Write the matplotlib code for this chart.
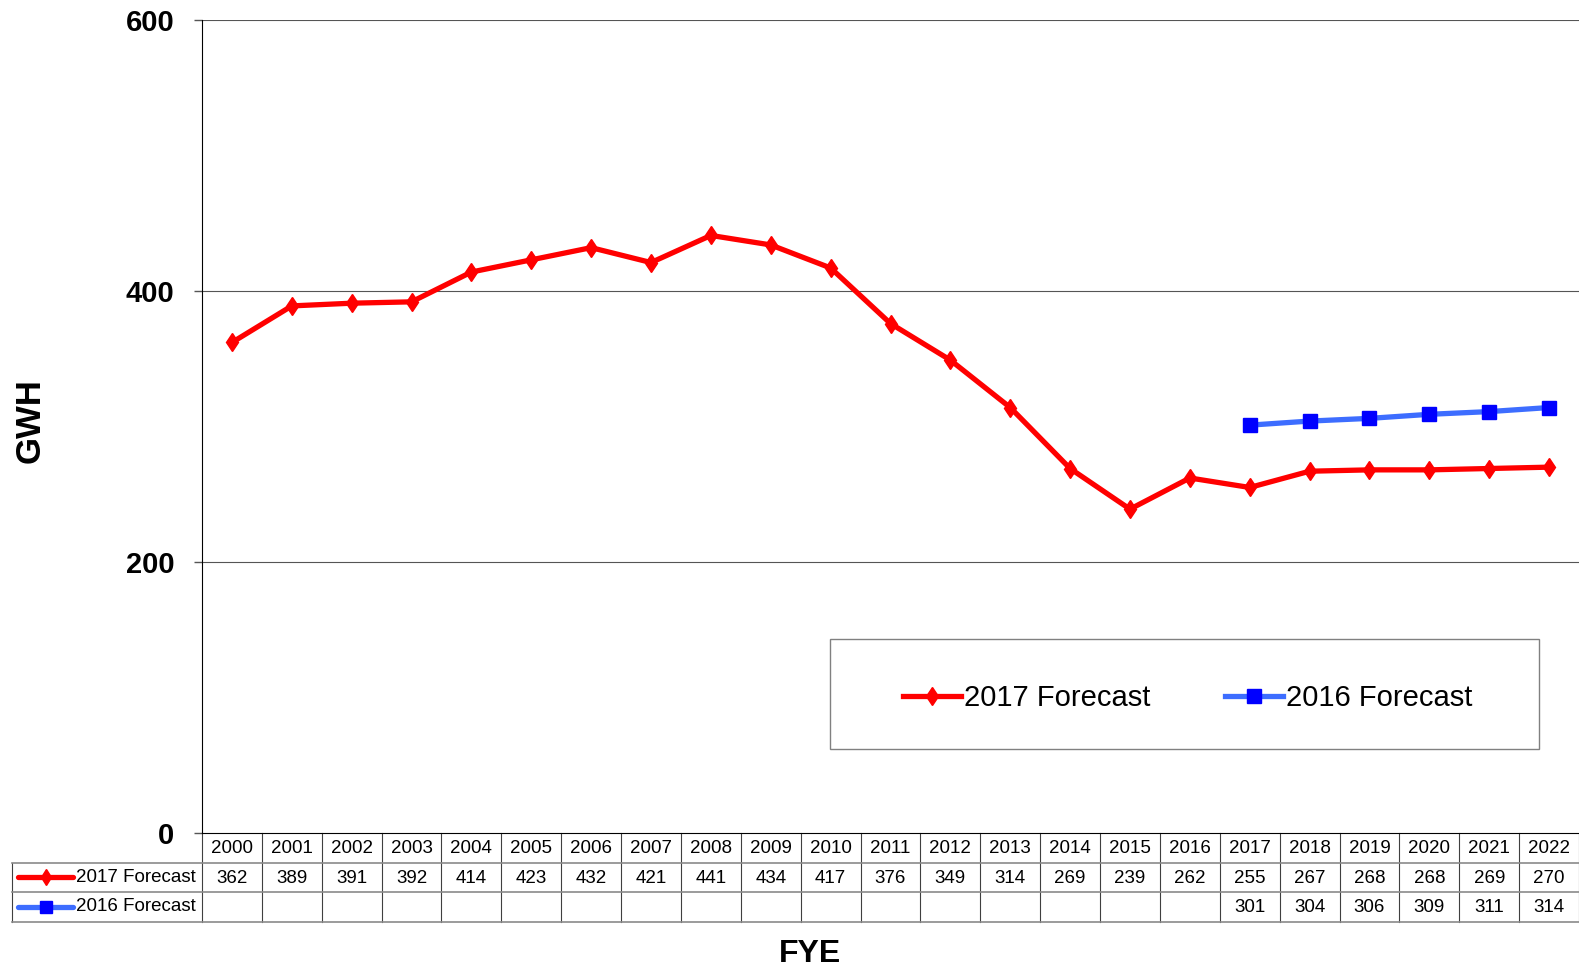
import matplotlib
matplotlib.use("Agg")
import matplotlib.pyplot as plt
import matplotlib.transforms as mtransforms
from matplotlib.patches import Rectangle
from matplotlib.lines import Line2D
import numpy as np

plt.rcParams['font.family'] = ['Liberation Sans', 'DejaVu Sans']

# data
years = [str(y) for y in range(2000, 2023)]
f2017 = [362, 389, 391, 392, 414, 423, 432, 421, 441, 434, 417, 376,
         349, 314, 269, 239, 262, 255, 267, 268, 268, 269, 270]
f2016_years = ['2017', '2018', '2019', '2020', '2021', '2022']
f2016 = [301, 304, 306, 309, 311, 314]
series_names = ['2017 Forecast', '2016 Forecast']
yticks = [0, 200, 400, 600]

W, H = 1579, 971
fig = plt.figure(figsize=(W / 100, H / 100), dpi=100)
ax_l, ax_r, ax_t, ax_b = 202, 1579, 20, 833
ax = fig.add_axes([ax_l / W, 1 - ax_b / H, (ax_r - ax_l) / W, (ax_b - ax_t) / H])

red = '#FF0000'
blue_line = '#3D6DFF'
blue_mk = '#0000FF'

x = np.arange(len(years))
x16 = [years.index(y) for y in f2016_years]
ax.plot(x, f2017, color=red, lw=3.8, marker='d', ms=9.5, mfc=red, mec=red, zorder=3)
ax.plot(x16, f2016, color=blue_line, lw=3.8, marker='s', ms=9.5, mfc=blue_mk, mec=blue_mk, zorder=3)

ax.set_xlim(-0.5, len(years) - 0.5)
ax.set_ylim(0, 600)
ax.set_yticks(yticks)
ax.set_yticklabels([str(v) for v in yticks], fontsize=21, fontweight='bold')
ax.tick_params(axis='y', direction='out', length=6, width=1, color='#555555', pad=14)
ax.set_xticks([])
for v in yticks[1:]:
    ax.axhline(v, color='#555555', lw=0.8, zorder=1)
for s in ['top', 'right']:
    ax.spines[s].set_visible(False)
ax.spines['left'].set_color('black')
ax.spines['bottom'].set_color('black')

fig.text(30 / W, 1 - 421 / H, 'GWH', fontsize=25, fontweight='bold',
         rotation=90, ha='center', va='center')
fig.text(810 / W, 1 - 954 / H, 'FYE', fontsize=23, fontweight='bold', ha='center', va='center')

# data table under the axes
rh = 29.5 / (ax_b - ax_t)
tr = mtransforms.blended_transform_factory(ax.transData, ax.transAxes)
trf = mtransforms.blended_transform_factory(fig.transFigure, ax.transAxes)
tab_left = 12 / W
line_kw = dict(color='#404040', lw=0.8, clip_on=False)
hline_kw = dict(color='#8a8a8a', lw=1.2, clip_on=False)
tfs = 13.5

for i, yr in enumerate(years):
    ax.text(i, -0.53 * rh, yr, transform=tr, ha='center', va='center', fontsize=tfs)
    ax.text(i, -1.53 * rh, str(f2017[i]), transform=tr, ha='center', va='center', fontsize=tfs)
for xi, v in zip(x16, f2016):
    ax.text(xi, -2.53 * rh, str(v), transform=tr, ha='center', va='center', fontsize=tfs)

# vertical cell borders
for k in range(len(years) + 1):
    ax.plot([k - 0.5, k - 0.5], [0, -3 * rh], transform=tr, **line_kw)
ax.plot([tab_left, tab_left], [-rh, -3 * rh], transform=trf, **line_kw)
# horizontal borders
for r in [1, 2, 3]:
    ax.plot([tab_left, 1.0], [-r * rh, -r * rh], transform=trf, **hline_kw)

# row labels with legend glyphs
styles = [dict(color=red, marker='d', ms=9.5, mfc=red, mec=red),
          dict(color=blue_line, marker='s', ms=9.5, mfc=blue_mk, mec=blue_mk)]
for r, (name, st) in enumerate(zip(series_names, styles)):
    yy = -(r + 1.5) * rh
    ax.plot([18 / W, 73 / W], [yy, yy], transform=trf, lw=3.8, color=st['color'],
            solid_capstyle='round', clip_on=False)
    ax.plot([45.5 / W], [yy], transform=trf, clip_on=False, linestyle='none',
            marker=st['marker'], ms=st['ms'] - 1.5, mfc=st['mfc'], mec=st['mec'])
    ax.text(76 / W, yy, name, transform=trf, ha='left', va='center', fontsize=tfs)

# legend box
lx0, lx1, ly0, ly1 = 830, 1539, 639, 749
fig.patches.append(Rectangle((lx0 / W, 1 - ly1 / H), (lx1 - lx0) / W, (ly1 - ly0) / H,
                             transform=fig.transFigure, fill=True, facecolor='white',
                             edgecolor='#808080', lw=1, zorder=5))
handles = [Line2D([], [], lw=3.8, **styles[0]), Line2D([], [], lw=3.8, **styles[1])]
leg = fig.legend(handles, series_names, loc='center',
                 bbox_to_anchor=((lx0 + lx1 + 6) / 2 / W, 1 - (ly0 + ly1 + 8) / 2 / H),
                 ncol=2, frameon=False, fontsize=21, handlelength=2.0,
                 handletextpad=0.1, columnspacing=2.55)
leg.set_zorder(6)

fig.savefig('out.png', dpi=100)
